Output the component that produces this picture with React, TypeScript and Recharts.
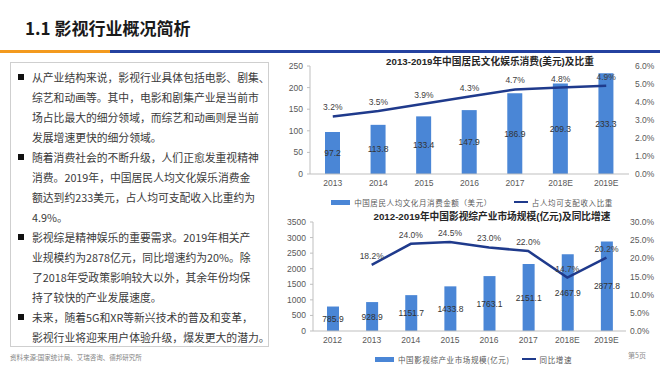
import React from "react";
import { ComposedChart, Bar, Line, XAxis, YAxis, LabelList, Legend } from "recharts";

// 2013-2019 人均文化娱乐消费
const spendYears = ["2013", "2014", "2015", "2016", "2017", "2018E", "2019E"];
const spendValues = [97.2, 113.8, 133.4, 147.9, 186.9, 209.3, 233.3];
const spendShare = [3.2, 3.5, 3.9, 4.3, 4.7, 4.8, 4.9];
const spendTicks = [0, 50, 100, 150, 200, 250];
const shareTicks = [0, 1, 2, 3, 4, 5, 6];

// 2012-2019 影视综产业市场规模
const marketYears = ["2012", "2013", "2014", "2015", "2016", "2017", "2018E", "2019E"];
const marketValues = [785.9, 928.9, 1151.7, 1433.8, 1763.1, 2151.1, 2467.9, 2877.8];
const marketGrowth = [null, 18.2, 24.0, 24.5, 23.0, 22.0, 14.7, 20.2];
const marketTicks = [0, 500, 1000, 1500, 2000, 2500, 3000, 3500];
const growthTicks = [0, 5, 10, 15, 20, 25, 30];

const paragraphs = [
  [
    "从产业结构来说，影视行业具体包括电影、剧集、",
    "综艺和动画等。其中，电影和剧集产业是当前市",
    "场占比最大的细分领域，而综艺和动画则是当前",
    "发展增速更快的细分领域。",
  ],
  [
    "随着消费社会的不断升级，人们正愈发重视精神",
    "消费。2019年，中国居民人均文化娱乐消费金",
    "额达到约233美元，占人均可支配收入比重约为",
    "4.9%。",
  ],
  [
    "影视综是精神娱乐的重要需求。2019年相关产",
    "业规模约为2878亿元，同比增速约为20%。除",
    "了2018年受政策影响较大以外，其余年份均保",
    "持了较快的产业发展速度。",
  ],
  [
    "未来，随着5G和XR等新兴技术的普及和变革，",
    "影视行业将迎来用户体验升级，爆发更大的潜力。",
  ],
];

const spendData = spendYears.map((year, i) => ({ year, spend: spendValues[i], share: spendShare[i] }));
const marketData = marketYears.map((year, i) => ({ year, market: marketValues[i], growth: marketGrowth[i] }));

const BAR = "#4a86d6";
const LINE = "#1f3a8c";
const CJK = "'Noto Sans CJK SC', sans-serif";
const ARIAL = "'Liberation Sans', Arial, 'Noto Sans CJK SC', sans-serif";
const tick = { fontSize: 8.5, fill: "#595959", fontFamily: ARIAL };
const pct = (v: any) => (v == null ? "" : `${Number(v).toFixed(1)}%`);

const LegendRow = ({ payload, shift, gap }: any) => (
  <div
    style={{
      display: "flex",
      alignItems: "center",
      justifyContent: "center",
      paddingLeft: shift,
      height: 16,
      fontFamily: CJK,
      fontSize: 7.5,
      letterSpacing: 0.6,
      color: "#595959",
    }}
  >
    {(payload || []).map((e: any, i: number) => (
      <div key={i} style={{ display: "flex", alignItems: "center", marginLeft: i ? gap : 0 }}>
        {e.type === "line" ? (
          <div style={{ width: 14, height: 2, background: e.color, marginRight: 4 }} />
        ) : (
          <div style={{ width: 19, height: 5, background: e.color, marginRight: 4 }} />
        )}
        <span>{e.value}</span>
      </div>
    ))}
  </div>
);

const chartTitle: React.CSSProperties = {
  position: "absolute",
  width: 300,
  textAlign: "center",
  fontFamily: ARIAL,
  fontWeight: "bold",
  fontSize: 9.7,
  lineHeight: "14px",
  color: "#262626",
  whiteSpace: "nowrap",
};

export default function App() {
  return (
    <div style={{ position: "absolute", left: 0, top: 0, width: 660, height: 371, background: "#fff", overflow: "hidden" }}>
      {/* header */}
      <div
        style={{
          position: "absolute",
          left: 25,
          top: 16,
          fontFamily: CJK,
          fontWeight: "bold",
          fontSize: 17,
          lineHeight: "24px",
          color: "#1a1a1a",
          whiteSpace: "nowrap",
        }}
      >
        1.1 影视行业概况简析
      </div>
      <div style={{ position: "absolute", left: 0, top: 50, width: 110, height: 3, background: "#f39a1e" }} />
      <div style={{ position: "absolute", left: 110, top: 50, width: 550, height: 3, background: "#2441a0" }} />

      {/* text panel */}
      <div
        style={{
          position: "absolute",
          left: 10,
          top: 62,
          width: 259,
          height: 285,
          border: "1px solid #cfcfcf",
          boxSizing: "border-box",
        }}
      />
      {paragraphs.map((lines, p) => {
        const start = paragraphs.slice(0, p).reduce((n, l) => n + l.length, 0);
        return (
          <div key={p}>
            <div
              style={{
                position: "absolute",
                left: 18,
                top: 67 + start * 20 + 7,
                width: 6,
                height: 6,
                background: "#111",
              }}
            />
            {lines.map((line, j) => (
              <div
                key={j}
                style={{
                  position: "absolute",
                  left: 32,
                  top: 67 + (start + j) * 20,
                  height: 20,
                  lineHeight: "20px",
                  fontFamily: CJK,
                  fontSize: 10.8,
                  color: "#3a3a3a",
                  whiteSpace: "nowrap",
                }}
              >
                {line}
              </div>
            ))}
          </div>
        );
      })}
      <div
        style={{
          position: "absolute",
          left: 10,
          top: 352,
          fontFamily: CJK,
          fontSize: 6.5,
          lineHeight: "10px",
          color: "#7f7f7f",
          whiteSpace: "nowrap",
        }}
      >
        资料来源:国家统计局、艾瑞咨询、德邦研究所
      </div>
      <div
        style={{
          position: "absolute",
          left: 628,
          top: 350,
          fontFamily: CJK,
          fontSize: 7,
          lineHeight: "10px",
          color: "#8c8c8c",
          whiteSpace: "nowrap",
        }}
      >
        第5页
      </div>

      {/* top chart */}
      <div style={{ position: "absolute", left: 270, top: 55, width: 390, height: 155 }}>
        <ComposedChart width={390} height={155} data={spendData} margin={{ top: 11, right: 0, bottom: 0, left: 0 }}>
          <XAxis
            dataKey="year"
            tick={tick}
            tickLine={false}
            tickSize={4}
            tickMargin={2}
            height={20}
            axisLine={{ stroke: "#bfbfbf" }}
            interval={0}
          />
          <YAxis
            yAxisId="left"
            domain={[0, 250]}
            ticks={spendTicks}
            tick={tick}
            width={40}
            tickSize={3}
            tickMargin={4}
            axisLine={{ stroke: "#bfbfbf" }}
            tickLine={{ stroke: "#bfbfbf" }}
            interval={0}
          />
          <YAxis
            yAxisId="right"
            orientation="right"
            domain={[0, 6]}
            ticks={shareTicks}
            tick={{ ...tick, textAnchor: "start" }}
            tickFormatter={pct}
            width={31}
            tickSize={4}
            tickMargin={2}
            axisLine={false}
            tickLine={false}
            interval={0}
          />
          <Legend
            verticalAlign="bottom"
            height={16}
            content={(props: any) => <LegendRow {...props} shift={14} gap={22} />}
          />
          <Bar
            yAxisId="left"
            dataKey="spend"
            name="中国居民人均文化月消费金额（美元）"
            fill={BAR}
            barSize={15}
            isAnimationActive={false}
          >
            <LabelList dataKey="spend" position="center" fill="#333" fontSize={8.5} fontFamily={ARIAL} />
          </Bar>
          <Line
            yAxisId="right"
            dataKey="share"
            name="占人均可支配收入比重"
            stroke={LINE}
            strokeWidth={2.5}
            dot={false}
            activeDot={false}
            isAnimationActive={false}
          >
            <LabelList dataKey="share" position="top" offset={6} formatter={pct} fill="#404040" fontSize={8.5} fontFamily={ARIAL} />
          </Line>
        </ComposedChart>
      </div>
      <div style={{ ...chartTitle, left: 340, top: 55 }}>2013-2019年中国居民文化娱乐消费(美元)及比重</div>

      {/* bottom chart */}
      <div style={{ position: "absolute", left: 270, top: 210, width: 390, height: 157 }}>
        <ComposedChart width={390} height={157} data={marketData} margin={{ top: 12, right: 0, bottom: 0, left: 0 }}>
          <XAxis
            dataKey="year"
            tick={tick}
            tickLine={false}
            tickSize={4}
            tickMargin={2}
            height={20}
            axisLine={{ stroke: "#bfbfbf" }}
            interval={0}
          />
          <YAxis
            yAxisId="left"
            domain={[0, 3500]}
            ticks={marketTicks}
            tick={tick}
            width={43}
            tickSize={3}
            tickMargin={4}
            axisLine={{ stroke: "#bfbfbf" }}
            tickLine={{ stroke: "#bfbfbf" }}
            interval={0}
          />
          <YAxis
            yAxisId="right"
            orientation="right"
            domain={[0, 30]}
            ticks={growthTicks}
            tick={{ ...tick, textAnchor: "start" }}
            tickFormatter={pct}
            width={34}
            tickSize={2}
            tickMargin={2}
            axisLine={false}
            tickLine={false}
            interval={0}
          />
          <Legend
            verticalAlign="bottom"
            height={16}
            content={(props: any) => <LegendRow {...props} shift={17} gap={12} />}
          />
          <Bar
            yAxisId="left"
            dataKey="market"
            name="中国影视综产业市场规模(亿元)"
            fill={BAR}
            barSize={12}
            isAnimationActive={false}
          >
            <LabelList dataKey="market" position="center" fill="#333" fontSize={8.5} fontFamily={ARIAL} />
          </Bar>
          <Line
            yAxisId="right"
            dataKey="growth"
            name="同比增速"
            stroke={LINE}
            strokeWidth={2.5}
            dot={false}
            activeDot={false}
            isAnimationActive={false}
          >
            <LabelList dataKey="growth" position="top" offset={6} formatter={pct} fill="#404040" fontSize={8.5} fontFamily={ARIAL} />
          </Line>
        </ComposedChart>
      </div>
      <div style={{ ...chartTitle, left: 342, top: 210 }}>2012-2019年中国影视综产业市场规模(亿元)及同比增速</div>
    </div>
  );
}
